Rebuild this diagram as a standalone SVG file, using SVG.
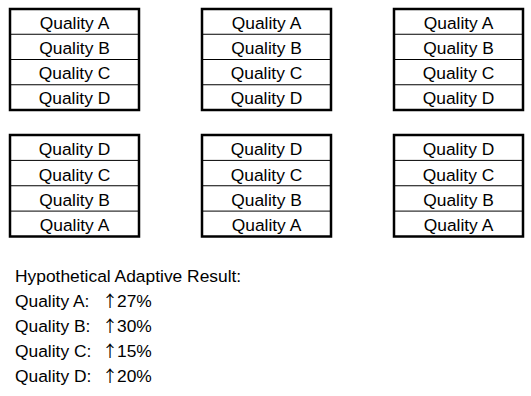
<svg xmlns="http://www.w3.org/2000/svg" width="531" height="396" viewBox="0 0 531 396">
<style>
.box{fill:#fff;stroke:#000;stroke-width:2.5}
.div{stroke:#000;stroke-width:1}
.t{font-family:"Liberation Sans",Arial,sans-serif;font-size:17.4px;fill:#000;text-anchor:middle}
.l{font-family:"Liberation Sans",Arial,sans-serif;font-size:17.4px;fill:#000}
.ar{font-family:"Noto Sans CJK SC","DejaVu Sans",sans-serif;font-size:16px;fill:#000}
</style>
<rect width="531" height="396" fill="#fff"/>
<g id="box1">
<rect class="box" x="10" y="9" width="129" height="101"/>
<line class="div" x1="10" y1="34.25" x2="139" y2="34.25"/>
<line class="div" x1="10" y1="59.5" x2="139" y2="59.5"/>
<line class="div" x1="10" y1="84.75" x2="139" y2="84.75"/>
<text class="t" x="74.5" y="29">Quality A</text>
<text class="t" x="74.5" y="54">Quality B</text>
<text class="t" x="74.5" y="79">Quality C</text>
<text class="t" x="74.5" y="104">Quality D</text>
</g>
<g id="box2">
<rect class="box" x="202" y="9" width="129" height="101"/>
<line class="div" x1="202" y1="34.25" x2="331" y2="34.25"/>
<line class="div" x1="202" y1="59.5" x2="331" y2="59.5"/>
<line class="div" x1="202" y1="84.75" x2="331" y2="84.75"/>
<text class="t" x="266.5" y="29">Quality A</text>
<text class="t" x="266.5" y="54">Quality B</text>
<text class="t" x="266.5" y="79">Quality C</text>
<text class="t" x="266.5" y="104">Quality D</text>
</g>
<g id="box3">
<rect class="box" x="394" y="9" width="129" height="101"/>
<line class="div" x1="394" y1="34.25" x2="523" y2="34.25"/>
<line class="div" x1="394" y1="59.5" x2="523" y2="59.5"/>
<line class="div" x1="394" y1="84.75" x2="523" y2="84.75"/>
<text class="t" x="458.5" y="29">Quality A</text>
<text class="t" x="458.5" y="54">Quality B</text>
<text class="t" x="458.5" y="79">Quality C</text>
<text class="t" x="458.5" y="104">Quality D</text>
</g>
<g id="box4">
<rect class="box" x="10" y="135" width="129" height="101.5"/>
<line class="div" x1="10" y1="160.4" x2="139" y2="160.4"/>
<line class="div" x1="10" y1="185.75" x2="139" y2="185.75"/>
<line class="div" x1="10" y1="211.1" x2="139" y2="211.1"/>
<text class="t" x="74.5" y="155">Quality D</text>
<text class="t" x="74.5" y="180.5">Quality C</text>
<text class="t" x="74.5" y="205.5">Quality B</text>
<text class="t" x="74.5" y="231">Quality A</text>
</g>
<g id="box5">
<rect class="box" x="202" y="135" width="129" height="101.5"/>
<line class="div" x1="202" y1="160.4" x2="331" y2="160.4"/>
<line class="div" x1="202" y1="185.75" x2="331" y2="185.75"/>
<line class="div" x1="202" y1="211.1" x2="331" y2="211.1"/>
<text class="t" x="266.5" y="155">Quality D</text>
<text class="t" x="266.5" y="180.5">Quality C</text>
<text class="t" x="266.5" y="205.5">Quality B</text>
<text class="t" x="266.5" y="231">Quality A</text>
</g>
<g id="box6">
<rect class="box" x="394" y="135" width="129" height="101.5"/>
<line class="div" x1="394" y1="160.4" x2="523" y2="160.4"/>
<line class="div" x1="394" y1="185.75" x2="523" y2="185.75"/>
<line class="div" x1="394" y1="211.1" x2="523" y2="211.1"/>
<text class="t" x="458.5" y="155">Quality D</text>
<text class="t" x="458.5" y="180.5">Quality C</text>
<text class="t" x="458.5" y="205.5">Quality B</text>
<text class="t" x="458.5" y="231">Quality A</text>
</g>
<g id="connectors"/>
<g id="result">
<text class="l" x="15" y="282">Hypothetical Adaptive Result:</text>
<text class="l" x="15" y="307">Quality A:</text>
<text class="l" x="15" y="332">Quality B:</text>
<text class="l" x="15" y="357">Quality C:</text>
<text class="l" x="15" y="382">Quality D:</text>
<text class="ar" x="102" y="307">↑</text>
<text class="ar" x="102" y="332">↑</text>
<text class="ar" x="102" y="357">↑</text>
<text class="ar" x="102" y="382">↑</text>
<text class="l" x="117" y="307">27%</text>
<text class="l" x="117" y="332">30%</text>
<text class="l" x="117" y="357">15%</text>
<text class="l" x="117" y="382">20%</text>
</g>
</svg>
